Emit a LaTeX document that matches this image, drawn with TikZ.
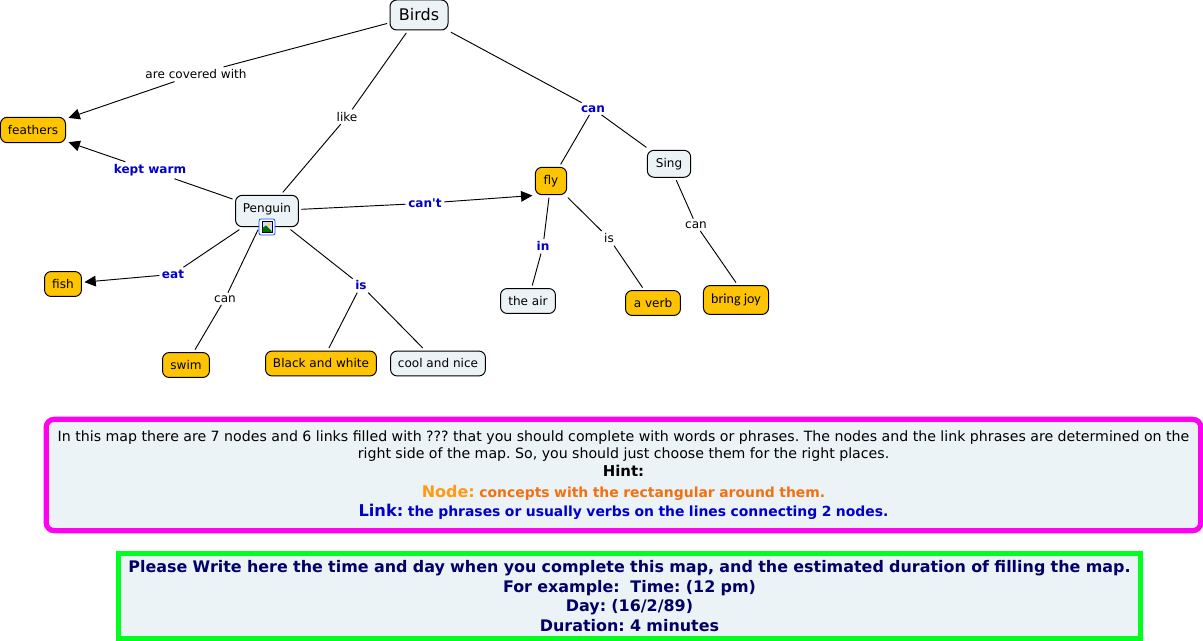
\documentclass[tikz,border=0pt]{standalone}
\usepackage{fontspec}
\setmainfont{DejaVu Sans}[Ligatures=TeXOff]
\newfontfamily\joyfont{Carlito}
\AtBeginDocument{\frenchspacing}
\usetikzlibrary{arrows.meta}
\definecolor{paleblue}{HTML}{ECF3F6}
\definecolor{gold}{HTML}{FFC400}
\definecolor{linkblue}{HTML}{0000CC}
\definecolor{navytext}{HTML}{000066}
\definecolor{orangeA}{HTML}{FF9A12}
\definecolor{orangeB}{HTML}{F2700F}
\definecolor{hintpink}{HTML}{FF00F0}
\definecolor{notegreen}{HTML}{00FF1E}
\tikzset{
  px/.style={x=0.75pt,y=-0.75pt},
  concept/.style={draw=black,line width=0.75pt,rounded corners=5pt,inner sep=0pt,outer sep=2.2pt,
    font=\fontsize{9.05pt}{11pt}\selectfont,text=black},
  pale/.style={concept,fill=paleblue},
  goldbox/.style={concept,fill=gold},
  linkphrase/.style={inner sep=2pt,outer sep=0pt,yshift=-0.2pt,font=\fontsize{9.05pt}{11pt}\selectfont,text=black},
  boldlink/.style={linkphrase,font=\fontsize{9.05pt}{11pt}\selectfont\bfseries,text=linkblue},
  edge/.style={draw=black,line width=0.7pt},
  arrowedge/.style={edge,-{Triangle[length=8.5pt,width=8pt]}},
}
\begin{document}
\begin{tikzpicture}[px]
\useasboundingbox (0,0) rectangle (1203,641);
% concepts
\node[pale,minimum width=43.5pt,minimum height=22.5pt,font=\fontsize{12pt}{14pt}\selectfont] (birds) at (419,15) {Birds};
\node[goldbox,minimum width=48.8pt,minimum height=19pt] (feathers) at (33,130) {feathers};
\node[pale,minimum width=47.2pt,minimum height=23.5pt] (penguin) at (267,211) {\raisebox{4.5pt}{Penguin}};
\node[goldbox,minimum width=27.7pt,minimum height=18.7pt] (fish) at (63,284) {fish};
\node[goldbox,minimum width=35.2pt,minimum height=18.7pt] (swim) at (186,365) {swim};
\node[goldbox,minimum width=83.2pt,minimum height=18.7pt] (bw) at (321,363.5) {Black and white};
\node[pale,minimum width=71.2pt,minimum height=18.7pt] (cool) at (438,363.5) {cool and nice};
\node[goldbox,minimum width=23.5pt,minimum height=20.5pt] (fly) at (551,181) {fly};
\node[pale,minimum width=32.5pt,minimum height=20.2pt] (sing) at (669,163.8) {Sing};
\node[pale,minimum width=41.2pt,minimum height=18.7pt] (air) at (528,301) {the air};
\node[goldbox,minimum width=41.2pt,minimum height=18.7pt] (verb) at (653,303) {a verb};
\node[goldbox,minimum width=48.8pt,minimum height=21.7pt,font=\fontsize{10.5pt}{12pt}\selectfont\joyfont] (joy) at (736,300) {bring joy};
% link phrases
\node[linkphrase] (covered) at (196,74) {are covered with};
\node[linkphrase] (like) at (347,116.5) {like};
\node[boldlink] (canbirds) at (593,108.5) {can};
\node[boldlink] (kept) at (150,170) {kept warm};
\node[boldlink] (cant) at (425,203) {can't};
\node[boldlink] (eat) at (173,274) {eat};
\node[linkphrase] (canswim) at (225,298.5) {can};
\node[boldlink] (ispeng) at (361,285) {is};
\node[boldlink] (in) at (543,246) {in};
\node[linkphrase] (isverb) at (609,238) {is};
\node[linkphrase] (cansing) at (696,224.5) {can};
% connectors
\draw[edge] (birds) -- (covered);
\draw[arrowedge] (covered) -- (feathers);
\draw[edge] (birds) -- (like);
\draw[edge] (like) -- (penguin);
\draw[edge] (birds) -- (canbirds);
\draw[edge] (canbirds) -- (fly);
\draw[edge] (canbirds) -- (sing);
\draw[edge] (penguin) -- (kept);
\draw[arrowedge] (kept) -- (feathers);
\draw[edge] (penguin) -- (cant);
\draw[arrowedge] (cant) -- (fly.218);
\draw[edge] (penguin) -- (eat);
\draw[arrowedge] (eat) -- (fish);
\draw[edge] (penguin) -- (canswim);
\draw[edge] (canswim) -- (swim);
\draw[edge] (penguin) -- (ispeng);
\draw[edge] (ispeng) -- (bw);
\draw[edge] (ispeng) -- (cool);
\draw[edge] (fly) -- (in);
\draw[edge] (in) -- (air);
\draw[edge] (fly) -- (isverb);
\draw[edge] (isverb) -- (verb);
\draw[edge] (sing) -- (cansing);
\draw[edge] (cansing) -- (joy.north);
% image icon on Penguin
\filldraw[draw=blue!70!cyan,fill=white,line width=0.6pt,rounded corners=1.5pt] (259,219) rectangle (275,235);
\fill[black!80!blue] (261.5,221) rectangle (272.5,233);
\fill[blue!15] (262.5,222) rectangle (271.5,232);
\fill[yellow!80!orange] (269,224.5) circle[radius=1.6];
\fill[green!45!black] (262.5,232) -- (262.5,228) -- (266,225.5) -- (271.5,231) -- (271.5,232) -- cycle;
% information boxes
\node[draw=hintpink,fill=paleblue,line width=3.9pt,rounded corners=6pt,
  minimum width=866pt,minimum height=83.5pt,inner sep=0pt,text width=860pt,align=center] (hint) at (623.5,475) {%
  \fontsize{10.62pt}{12.8pt}\selectfont In this map there are 7 nodes and 6 links filled with ??? that you should complete with words or phrases. The nodes and the link phrases are determined on the\\
  right side of the map. So, you should just choose them for the right places.\par
  \fontsize{11.2pt}{14pt}\selectfont\bfseries Hint:\par
  \fontsize{12pt}{15.5pt}\selectfont\color{orangeA}Node: \fontsize{10.45pt}{15.5pt}\selectfont\color{orangeB}concepts with the rectangular around them.\par
  \fontsize{12.2pt}{14.5pt}\selectfont\color{linkblue}Link: \fontsize{10.45pt}{14.5pt}\selectfont the phrases or usually verbs on the lines connecting 2 nodes.\par};
\node[draw=notegreen,fill=paleblue,line width=3.9pt,
  minimum width=766pt,minimum height=63.5pt,inner sep=0pt,text width=760pt,align=center,
  text=navytext,font=\bfseries\fontsize{11.95pt}{14.7pt}\selectfont] (note) at (629.5,596) {%
  Please Write here the time and day when you complete this map, and the estimated duration of filling the map.\hspace*{4.5pt}\\
  For example:\ \ Time: (12 pm)\\
  Day: (16/2/89)\\
  Duration: 4 minutes};
\end{tikzpicture}
\end{document}
